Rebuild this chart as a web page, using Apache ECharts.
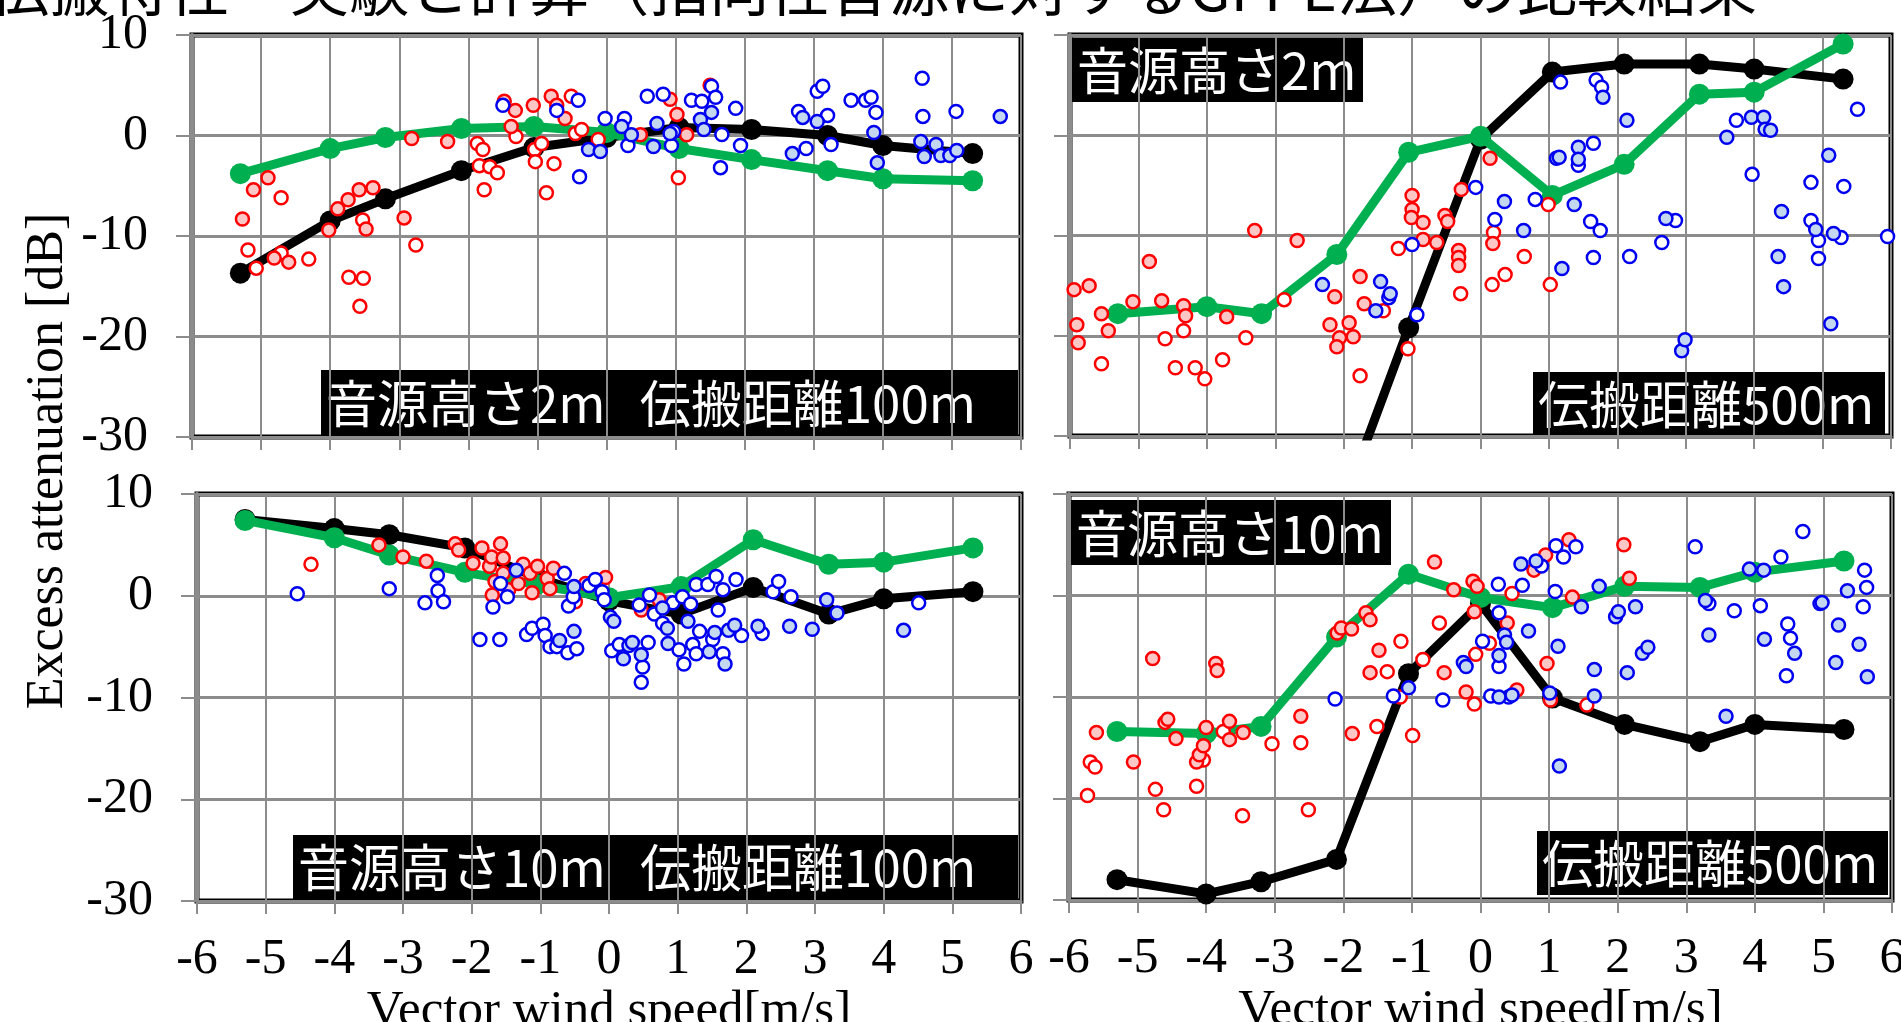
<!DOCTYPE html>
<html>
<head>
<meta charset="utf-8">
<script src="https://cdn.jsdelivr.net/npm/echarts@6.0.0/dist/echarts.min.js"></script>
<style>
  html, body { margin: 0; padding: 0; background: #fff; overflow: hidden; }
  #chart { width: 1901px; height: 1022px; }
</style>
</head>
<body>
<div id="chart"></div>
<script>
// wind speeds of the calculated (GFPE) points, shared by every panel
const calcWind = [-5.3, -4.0, -3.2, -2.1, -1.05, 0.0, 1.05, 2.1, 3.2, 4.0, 5.3];

// top-left: source 2m, distance 100m
const tlGreen = [-3.8, -1.3, -0.2, 0.7, 0.9, 0.3, -1.3, -2.4, -3.5, -4.3, -4.5];
const tlBlack = [-13.7, -8.5, -6.3, -3.5, -1.2, -0.2, 0.8, 0.6, 0.0, -1.0, -1.8];
const tlRedFill = [[-5.27,-8.3],[-5.11,-5.4],[-4.9,-4.2],[-4.81,-12.2],[-4.6,-12.6],[-4.02,-9.4],[-3.89,-7.3],[-3.74,-6.4],[-3.58,-5.4],[-3.48,-9.3],[-3.38,-5.2],[-2.93,-8.2],[-2.82,-0.3],[-2.3,-0.6],[-1.48,3.4],[-1.32,2.5],[-1.38,0.9],[-1.06,3.0],[-0.8,3.9],[-0.72,3.0],[-0.6,1.7],[0.49,0.07],[0.92,3.6],[1.02,2.1],[1.16,0.07],[1.5,5.0]];
const tlRedOpen = [[-5.19,-11.4],[-5.07,-13.2],[-4.71,-6.2],[-4.71,-11.7],[-4.31,-12.3],[-3.53,-8.4],[-3.73,-14.1],[-3.52,-14.2],[-3.57,-17.0],[-2.76,-10.9],[-1.87,-0.8],[-1.79,-1.4],[-1.84,-3.0],[-1.69,-3.1],[-1.58,-3.7],[-1.77,-5.4],[-1.31,-0.1],[-1.04,-1.4],[-0.94,-0.8],[-1.03,-2.6],[-0.87,-5.7],[-0.76,-2.8],[-0.51,3.9],[-0.45,0.2],[-0.36,0.6],[-0.12,-0.4],[1.04,-4.2]];
const tlBlueFill = [[-0.26,-1.4],[-0.09,-1.6],[0.22,0.9],[0.36,0.07],[0.68,-1.1],[0.73,1.2],[0.92,0.2],[1.36,1.6],[1.41,0.6],[1.52,2.3],[2.69,-1.8],[2.84,1.8],[3.05,1.4],[3.87,0.3],[3.92,-2.7],[4.55,-0.6],[4.6,-2.1],[4.77,-0.9],[4.84,-2.0],[4.97,-2.0],[5.07,-1.5],[5.7,1.9]];
const tlBlueOpen = [[-1.5,3.0],[-0.72,2.5],[-0.41,3.5],[-0.39,-4.1],[-0.02,1.7],[0.26,1.7],[0.31,-1.0],[0.59,3.9],[0.82,4.1],[0.94,-1.0],[0.97,0.4],[1.23,3.5],[1.38,3.4],[1.52,4.9],[1.58,3.8],[1.65,-3.2],[1.67,0.1],[1.87,2.7],[1.94,-1.0],[2.78,2.4],[2.89,-1.3],[3.05,4.4],[3.13,4.9],[3.2,2.0],[3.25,-0.9],[3.54,3.5],[3.75,3.5],[3.83,3.8],[3.9,2.3],[4.57,5.7],[4.58,1.9],[5.06,2.4]];

// top-right: source 2m, distance 500m
const trGreen = [-17.8, -17.1, -17.8, -11.9, -1.7, -0.1, -6.0, -2.9, 4.1, 4.3, 9.1];
const trBlack = [null, null, null, -38.5, -19.2, -0.4, 6.3, 7.1, 7.1, 6.6, 5.6];
const trRedFill = [[-5.94,-15.4],[-5.72,-15.0],[-5.9,-18.9],[-5.88,-20.7],[-5.54,-17.8],[-5.44,-19.5],[-5.08,-16.6],[-4.84,-12.6],[-4.66,-16.5],[-4.34,-17.0],[-4.31,-18.0],[-3.71,-18.1],[-3.3,-9.5],[-2.68,-10.5],[-2.13,-16.1],[-2.2,-18.9],[-1.92,-18.7],[-2.06,-20.2],[-2.1,-21.1],[-1.86,-20.1],[-1.76,-14.1],[-1.7,-16.8],[-1.0,-6.0],[-1.0,-7.4],[-1.01,-8.2],[-0.84,-8.7],[-0.84,-10.4],[-0.64,-10.7],[-0.52,-8.0],[-0.48,-8.6],[-0.28,-5.4],[-0.32,-11.5],[-0.32,-12.2],[-0.32,-13.0],[0.14,-2.3],[0.18,-10.8]];
const trRedOpen = [[-5.54,-22.8],[-4.61,-20.3],[-4.46,-23.2],[-4.34,-19.5],[-4.17,-23.2],[-4.03,-24.3],[-3.77,-22.4],[-3.43,-20.2],[-2.87,-16.4],[-1.76,-24.0],[-1.42,-17.5],[-1.2,-11.3],[-0.29,-15.8],[-1.06,-21.3],[0.19,-9.7],[0.17,-14.9],[0.36,-13.9],[0.64,-12.1],[0.99,-6.9],[1.02,-14.9]];
const trBlueFill = [[-2.31,-14.9],[-1.46,-14.6],[-1.32,-15.8],[-1.53,-17.5],[0.35,-6.6],[0.63,-9.5],[1.11,-2.3],[1.15,-2.2],[1.43,-1.2],[1.43,-2.4],[1.79,3.8],[1.37,-6.9],[1.19,-13.3],[2.14,1.5],[2.71,-8.3],[2.94,-21.5],[2.99,-20.4],[3.6,-0.2],[3.96,1.8],[4.14,1.8],[4.16,0.6],[4.24,0.5],[4.4,-7.6],[4.35,-12.1],[4.43,-15.1],[4.9,-9.4],[5.09,-2.0],[5.16,-9.8],[5.12,-18.8]];
const trBlueOpen = [[-1.34,-16.2],[-1.0,-10.9],[-0.93,-17.9],[-0.07,-5.2],[0.21,-8.4],[0.8,-6.4],[1.17,5.3],[1.43,-3.0],[1.65,-0.8],[1.69,5.5],[1.77,4.8],[1.61,-8.6],[1.75,-9.5],[1.65,-12.2],[2.18,-12.1],[2.65,-10.7],[2.85,-8.5],[3.74,1.5],[3.97,-3.9],[4.83,-4.7],[4.83,-8.5],[4.94,-10.5],[4.94,-12.3],[5.27,-10.2],[5.31,-5.1],[5.51,2.6],[5.95,-10.1]];

// bottom-left: source 10m, distance 100m
const blGreen = [7.4, 5.7, 4.0, 2.3, 1.1, -0.2, 0.9, 5.5, 3.1, 3.3, 4.7];
const blBlack = [7.5, 6.6, 6.0, 4.7, 1.8, -0.5, -1.8, 0.8, -1.8, -0.3, 0.4];
const blRedFill = [[-3.35,5.0],[-3.0,3.8],[-2.66,3.4],[-2.24,5.1],[-2.19,4.5],[-1.98,3.2],[-1.85,4.7],[-1.74,2.9],[-1.71,3.8],[-1.66,1.4],[-1.7,0.07],[-1.58,5.1],[-1.54,3.7],[-1.54,2.2],[-1.46,0.6],[-1.32,1.2],[-1.25,3.1],[-1.15,2.2],[-1.12,0.3],[-1.04,2.9],[-0.9,1.7],[-0.86,0.7],[-0.81,2.7],[-0.34,1.2],[-0.05,1.8],[0.47,-1.4],[0.73,-0.4]];
const blRedOpen = [[-4.34,3.1],[-0.49,-0.6]];
const blBlueFill = [[-1.35,2.5],[-0.72,-4.4],[-0.51,-3.5],[-0.51,0.9],[0.02,-2.1],[0.07,-2.5],[0.21,-6.2],[0.29,-4.9],[0.34,-4.6],[0.47,-5.8],[0.78,-1.2],[0.85,-3.2],[0.86,-4.7],[1.15,-2.5],[1.46,-5.5],[1.54,-3.6],[1.69,-6.7],[1.74,-3.4],[1.83,-2.9],[2.17,-3.0],[2.63,-3.0],[2.96,-3.3],[3.17,-0.4],[3.32,-1.7],[4.29,-3.4]];
const blBlueOpen = [[-4.54,0.2],[-3.2,0.7],[-2.68,-0.7],[-2.5,2.0],[-2.49,0.5],[-2.41,-0.6],[-1.88,-4.3],[-1.69,-1.1],[-1.59,-4.3],[-1.58,1.2],[-1.48,-0.1],[-1.2,-3.8],[-1.12,-3.2],[-0.96,-2.8],[-0.93,-3.9],[-0.86,-5.0],[-0.76,-5.0],[-0.65,2.2],[-0.6,-5.6],[-0.59,-1.0],[-0.52,-0.1],[-0.47,-5.2],[-0.29,1.0],[-0.2,1.6],[-0.1,0.4],[-0.07,-0.4],[0.04,-5.4],[0.15,-4.8],[0.44,-0.9],[0.49,-7.0],[0.47,-8.5],[0.57,-4.6],[0.59,0.07],[0.66,-1.8],[0.78,-2.7],[0.93,-0.7],[1.02,-5.3],[1.09,-6.7],[1.07,-0.1],[1.19,-0.8],[1.22,-4.8],[1.27,-5.7],[1.27,1.1],[1.32,-3.5],[1.44,1.1],[1.51,-4.3],[1.56,1.9],[1.59,-1.4],[1.66,-5.7],[1.66,0.6],[1.85,1.6],[1.93,-3.9],[2.23,-3.7],[2.39,0.4],[2.47,1.4],[2.65,-0.1],[4.51,-0.7]];

// bottom-right: source 10m, distance 500m
const brGreen = [-13.4, -13.6, -12.9, -4.1, 2.1, -0.2, -1.2, 0.9, 0.8, 2.3, 3.4];
const brBlack = [-28.0, -29.4, -28.2, -26.0, -7.7, -0.8, -10.1, -12.7, -14.4, -12.7, -13.2];
const brRedFill = [[-5.6,-13.5],[-5.06,-16.4],[-4.78,-6.2],[-4.6,-12.5],[-4.56,-12.2],[-4.44,-14.1],[-4.14,-16.4],[-4.1,-15.7],[-4.04,-14.8],[-4.0,-13.0],[-3.86,-6.7],[-3.84,-7.4],[-3.66,-12.4],[-3.66,-14.2],[-3.46,-13.5],[-2.62,-11.9],[-2.09,-3.7],[-2.03,-3.2],[-1.88,-3.3],[-1.87,-13.6],[-1.67,-1.7],[-1.61,-2.4],[-1.48,-5.4],[-1.61,-7.6],[-0.67,3.3],[-0.53,-7.6],[-0.39,0.56],[-0.21,-9.5],[-0.11,1.4],[-0.05,0.9],[-0.09,-1.6],[0.39,-2.7],[0.53,-9.3],[0.78,2.5],[0.95,4.0],[0.97,-6.7],[1.02,-10.3],[1.29,5.5],[1.34,-0.16],[2.09,5.0],[2.17,1.7]];
const brRedOpen = [[-5.73,-19.7],[-5.69,-16.4],[-5.62,-16.9],[-4.74,-19.1],[-4.62,-21.1],[-4.14,-18.8],[-4.04,-16.2],[-3.75,-13.4],[-3.47,-21.7],[-3.04,-14.6],[-2.62,-14.5],[-2.51,-21.1],[-1.51,-12.9],[-1.36,-7.5],[-1.16,-4.5],[-1.17,-10.0],[-0.99,-13.8],[-0.84,-6.3],[-0.6,-2.7],[-0.07,-5.8],[-0.09,-10.7],[0.13,-4.7],[0.46,0.2],[1.55,-10.8]];
const brBlueFill = [[-1.05,-9.1],[-0.25,-6.6],[-0.21,-7.0],[0.27,-5.9],[0.35,-3.9],[0.38,-4.6],[0.27,-10.0],[0.46,-9.8],[0.59,3.1],[0.7,-3.5],[0.81,3.4],[1.13,-5.0],[1.15,-16.8],[1.01,-9.6],[1.47,-1.1],[1.66,-7.3],[1.66,-9.9],[1.73,0.9],[1.97,-2.1],[2.01,-1.6],[2.26,-1.1],[2.14,-7.6],[2.36,-5.7],[2.44,-5.1],[3.28,-0.5],[3.33,-3.9],[3.58,-11.9],[3.92,2.6],[4.13,2.5],[4.14,-4.3],[4.58,-5.7],[4.95,-0.8],[4.98,-0.7],[5.18,-6.6],[5.22,-2.9],[5.35,0.46],[5.52,-4.8],[5.64,-8.0]];
const brBlueOpen = [[-2.12,-10.2],[-1.27,-9.9],[-0.55,-10.3],[0.03,-4.5],[0.15,-9.9],[0.26,1.1],[0.27,-1.7],[0.27,-7.0],[0.41,-10.0],[0.61,1.0],[0.89,2.9],[1.1,4.9],[1.21,3.8],[1.39,4.8],[1.09,0.4],[3.13,4.8],[3.33,-0.8],[3.7,-1.5],[4.08,-1.0],[4.38,3.8],[4.46,-7.9],[4.48,-2.8],[4.52,-4.2],[4.7,6.3],[5.58,-1.1],[5.6,2.5],[5.63,0.8]];

const windTicks = { min: -6, max: 6, step: 1 };
const attenTicks = { min: -30, max: 10, step: 10 };

const chart = echarts.init(document.getElementById('chart'));

const serif = '"Liberation Serif", "Times New Roman", serif';
const jpFont = '"Noto Sans CJK JP", "Noto Sans", sans-serif';
const gridGray = '#8c8c8c';

const grids = [
    { left: 192, top: 35, width: 829, height: 402 },
    { left: 1070, top: 35, width: 821, height: 401 },
    { left: 197, top: 494, width: 824, height: 407 },
    { left: 1069, top: 494, width: 823, height: 406 },
].map(g => Object.assign(g, {
    show: true, borderColor: '#000', borderWidth: 5, backgroundColor: '#fff',
    containLabel: false, outerBoundsMode: 'none',
}));

const xAxes = [0, 1, 2, 3].map(i => ({
    type: 'value',
    gridIndex: i,
    min: windTicks.min,
    max: windTicks.max,
    interval: windTicks.step,
    name: i >= 2 ? 'Vector wind speed[m/s]' : '',
    nameLocation: 'middle',
    nameGap: 82,
    nameTextStyle: { fontFamily: serif, fontSize: 51, color: '#000' },
    axisLine: { show: true, onZero: false, lineStyle: { color: gridGray, width: 3 } },
    axisTick: { show: true, length: 13, lineStyle: { color: gridGray, width: 2 } },
    axisLabel: { show: i >= 2, margin: 34, fontFamily: serif, fontSize: 50, color: '#000' },
    splitLine: { show: true, lineStyle: { color: gridGray, width: 2 } },
}));

const yAxes = [0, 1, 2, 3].map(i => ({
    type: 'value',
    gridIndex: i,
    min: attenTicks.min,
    max: attenTicks.max,
    interval: attenTicks.step,
    axisLine: { show: true, onZero: false, lineStyle: { color: gridGray, width: 4 } },
    axisTick: { show: true, length: 16, lineStyle: { color: gridGray, width: 2 } },
    axisLabel: { show: i % 2 === 0, margin: 44, fontFamily: serif, fontSize: 50, color: '#000' },
    splitLine: { show: true, lineStyle: { color: gridGray, width: 3 } },
}));

function calcLine(idx, ys, color, width) {
    const data = [];
    calcWind.forEach((x, k) => { if (ys[k] !== null) data.push([x, ys[k]]); });
    return {
        type: 'line',
        xAxisIndex: idx,
        yAxisIndex: idx,
        data: data,
        symbol: 'circle',
        symbolSize: 21,
        showSymbol: true,
        lineStyle: { color: color, width: width },
        itemStyle: { color: color },
        z: color === '#000' ? 3 : 4,
        animation: false,
    };
}

function dots(idx, data, fill, stroke) {
    return {
        type: 'scatter',
        xAxisIndex: idx,
        yAxisIndex: idx,
        data: data,
        symbol: 'circle',
        symbolSize: 13,
        itemStyle: { color: fill, borderColor: stroke, borderWidth: 2.5, opacity: 1 },
        z: 5,
        animation: false,
    };
}

const red = '#ff0000', pink = '#ffc6c6', blue = '#0000f0', paleBlue = '#c3d7f0';

const panels = [
    [tlGreen, tlBlack, tlRedOpen, tlRedFill, tlBlueOpen, tlBlueFill],
    [trGreen, trBlack, trRedOpen, trRedFill, trBlueOpen, trBlueFill],
    [blGreen, blBlack, blRedOpen, blRedFill, blBlueOpen, blBlueFill],
    [brGreen, brBlack, brRedOpen, brRedFill, brBlueOpen, brBlueFill],
];

const series = [];
panels.forEach((p, i) => {
    series.push(calcLine(i, p[1], '#000', 9));
    series.push(calcLine(i, p[0], '#00b050', 9));
    series.push(dots(i, p[2], '#fff', red));
    series.push(dots(i, p[3], pink, red));
    series.push(dots(i, p[4], '#fff', blue));
    series.push(dots(i, p[5], paleBlue, blue));
});

function tag(x, y, w, h, text) {
    return {
        type: 'group',
        z: 100,
        children: [
            { type: 'rect', shape: { x: x, y: y, width: w, height: h }, style: { fill: '#000' } },
            { type: 'text', x: x + 5, y: y + h / 2 + 1, style: { text: text, fill: '#fff', font: '51px ' + jpFont, textAlign: 'left', textVerticalAlign: 'middle' } },
        ],
    };
}

chart.setOption({
    animation: false,
    grid: grids,
    xAxis: xAxes,
    yAxis: yAxes,
    series: series,
    graphic: [
        {
            type: 'text', x: 1757, y: -12, z: 100,
            style: { text: '伝搬特性　実験と計算（指向性音源に対するGFPE法）の比較結果', fill: '#000', font: '60px ' + jpFont, textAlign: 'right', textVerticalAlign: 'middle' },
        },
        {
            type: 'text', x: 48, y: 461, rotation: Math.PI / 2, z: 100,
            style: { text: 'Excess attenuation [dB]', fill: '#000', font: '52px ' + serif, textAlign: 'center', textVerticalAlign: 'middle' },
        },
        tag(321, 370, 697, 65, '音源高さ2m   伝搬距離100m'),
        tag(1072, 38, 291, 64, '音源高さ2m'),
        tag(1533, 372, 352, 64, '伝搬距離500m'),
        tag(293, 835, 725, 64, '音源高さ10m   伝搬距離100m'),
        tag(1071, 500, 320, 65, '音源高さ10m'),
        tag(1537, 831, 351, 64, '伝搬距離500m'),
    ],
});
</script>
</body>
</html>
